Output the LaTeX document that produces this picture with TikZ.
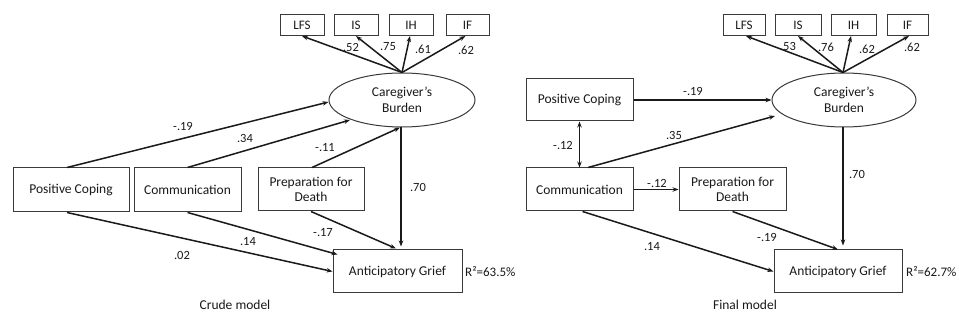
\documentclass[tikz,border=0pt]{standalone}
\usepackage{fontspec}
\setmainfont{Carlito}
\usetikzlibrary{shapes.geometric,arrows.meta,calc}
\definecolor{ink}{HTML}{1A1A1A}
\definecolor{edge}{HTML}{3A3A3A}
\tikzset{
  box/.style={draw=edge,line width=1pt,rectangle,inner sep=0pt,align=center,font=\fontsize{13.5}{15.5}\selectfont,text=ink},
  small/.style={box,font=\fontsize{13}{14}\selectfont},
  latent/.style={draw=edge,line width=1pt,ellipse,inner sep=0pt,align=center,font=\fontsize{13.5}{16.5}\selectfont,text=ink},
  conn/.style={draw=ink,line width=1.5pt,-{Stealth[length=6pt,width=4.5pt]}},
  bconn/.style={draw=ink,line width=1.5pt,{Stealth[length=6pt,width=4.5pt]}-{Stealth[length=6pt,width=4.5pt]}},
  coef/.style={inner sep=0pt,font=\fontsize{12.5}{14}\selectfont,text=ink},
  captext/.style={inner sep=0pt,font=\fontsize{13.5}{15}\selectfont,text=ink},
  rsq/.style={inner sep=0pt,anchor=west,font=\fontsize{13}{15}\selectfont,text=ink}
}
\begin{document}
\begin{tikzpicture}[x=1pt,y=-1pt]
\useasboundingbox[fill=white] (0,0) rectangle (959,320);
% ---------------- Crude model ----------------
\node[small,minimum width=44pt,minimum height=21pt] (lLFS) at (302,25) {LFS};
\node[small,minimum width=44pt,minimum height=21pt] (lIS) at (356,25) {IS};
\node[small,minimum width=44pt,minimum height=21pt] (lIH) at (411,25) {IH};
\node[small,minimum width=43pt,minimum height=21pt] (lIF) at (467.5,25) {IF};
\node[latent,minimum width=146pt,minimum height=54pt] (lCB) at (402,100) {Caregiver’s\\Burden};
\node[box,minimum width=116pt,minimum height=44pt] (lPC) at (71,190) {Positive Coping};
\node[box,minimum width=107pt,minimum height=44pt] (lCM) at (187.5,190) {Communication};
\node[box,minimum width=106pt,minimum height=43pt] (lPD) at (311,189.5) {Preparation for\\Death};
\node[box,minimum width=129pt,minimum height=43pt] (lAG) at (397.5,271.5) {Anticipatory Grief};

\draw[conn] (lCB.north) -- (lLFS.south);
\draw[conn] (lCB.north) -- (lIS.south);
\draw[conn] (lCB.north) -- ([xshift=-1pt]lIH.south);
\draw[conn] (lCB.north) -- ([xshift=-2pt]lIF.south);
\draw[conn] ([xshift=-4pt]lPC.north) -- ($(lCB.west)+(0,2)$);
\draw[conn] (lCM.north) -- ($(lCB.center)+(-52,20)$);
\draw[conn] ([xshift=1pt]lPD.north) -- ([xshift=-2pt]lCB.south);
\draw[conn] ([xshift=-1pt]lCB.south) -- ($([xshift=-1pt]lCB.south |- lAG.north)+(0,-3)$);
\draw[conn] (lPD.south) -- ($(lAG.north)+(-1.5,-1)$);
\draw[conn] (lCM.south) -- ($(lAG.north west)+(5,5)$);
\draw[conn] ([xshift=-4pt]lPC.south) -- (lAG.west);

\node[coef] (la1) at (351,47) {.52};
\node[coef] (la2) at (388,47) {.75};
\node[coef] (la3) at (423,49) {.61};
\node[coef] (la4) at (466,50) {.62};
\node[coef] (lb1) at (183,126) {-.19};
\node[coef] (lb2) at (245,138) {.34};
\node[coef] (lb3) at (325,148) {-.11};
\node[coef] (lb4) at (418,187) {.70};
\node[coef] (lb5) at (323,233) {-.17};
\node[coef] (lb6) at (248,242) {.14};
\node[coef] (lb7) at (182,255) {.02};
\node[rsq] (lR) at (465,272) {R²=63.5\%};
\node[captext] (lT) at (235,305) {Crude model};

% ---------------- Final model ----------------
\node[small,minimum width=42pt,minimum height=21pt] (rLFS) at (744,25) {LFS};
\node[small,minimum width=46pt,minimum height=21pt] (rIS) at (798,25) {IS};
\node[small,minimum width=45pt,minimum height=21pt] (rIH) at (853.5,25) {IH};
\node[small,minimum width=41pt,minimum height=21pt] (rIF) at (907.5,25) {IF};
\node[latent,minimum width=144pt,minimum height=54pt] (rCB) at (844,100) {Caregiver’s\\Burden};
\node[box,minimum width=107pt,minimum height=42pt] (rPC) at (579.5,100) {Positive Coping};
\node[box,minimum width=107pt,minimum height=43pt] (rCM) at (579.5,189.5) {Communication};
\node[box,minimum width=107pt,minimum height=43pt] (rPD) at (732.5,189.5) {Preparation for\\Death};
\node[box,minimum width=128pt,minimum height=43pt] (rAG) at (838,271.5) {Anticipatory Grief};

\draw[conn] ([xshift=-1pt]rCB.north) -- ([xshift=2pt]rLFS.south);
\draw[conn] ([xshift=-1pt]rCB.north) -- (rIS.south);
\draw[conn] ([xshift=-1pt]rCB.north) -- ([xshift=-2.5pt]rIH.south);
\draw[conn] ([xshift=-1pt]rCB.north) -- ([xshift=1.5pt]rIF.south);
\draw[conn] (rPC.east) -- (rCB.west);
\draw[bconn] (rPC.south) -- (rCM.north);
\draw[conn] ([xshift=8.5pt]rCM.north) -- ($(rCB.center)+(-69,16)$);
\draw[conn] ([xshift=-1pt]rCB.south) -- ($([xshift=-1pt]rCB.south |- rAG.north)+(0,-4)$);
\draw[conn] (rCM.east) -- (rPD.west);
\draw[conn] (rPD.south) -- (rAG.north);
\draw[conn] ([xshift=3pt]rCM.south) -- (rAG.west);

\node[coef] (ra1) at (788,46) {.53};
\node[coef] (ra2) at (826,47) {.76};
\node[coef] (ra3) at (867,49) {.62};
\node[coef] (ra4) at (912,47) {.62};
\node[coef] (rb1) at (693,91) {-.19};
\node[coef] (rb2) at (563,145) {-.12};
\node[coef] (rb3) at (674,135) {.35};
\node[coef] (rb4) at (857,174) {.70};
\node[coef] (rb5) at (657,183) {-.12};
\node[coef] (rb6) at (767,237) {-.19};
\node[coef] (rb7) at (652,247) {.14};
\node[rsq] (rR) at (906,272) {R²=62.7\%};
\node[captext] (rT) at (745,305) {Final model};
\end{tikzpicture}
\end{document}
